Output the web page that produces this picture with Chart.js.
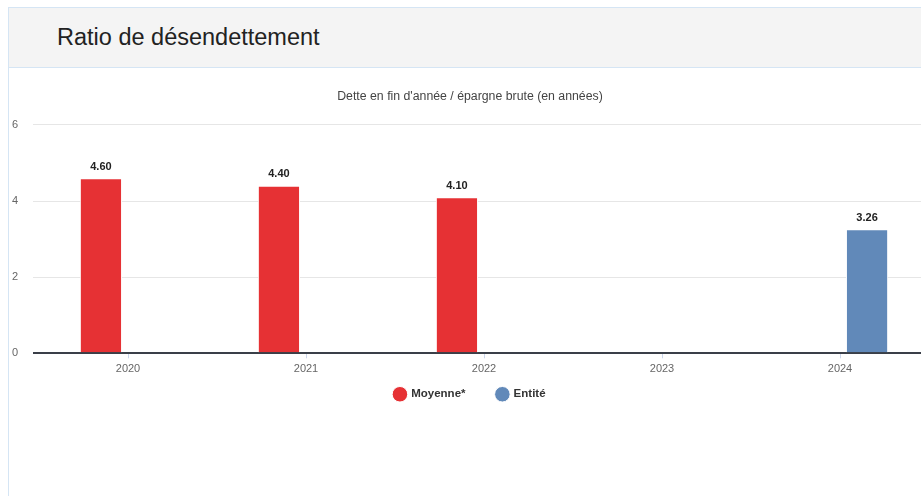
<!DOCTYPE html>
<html>
<head>
<meta charset="utf-8">
<script src="https://cdn.jsdelivr.net/npm/chart.js@4.4.0/dist/chart.umd.min.js"></script>
<style>
  body { margin: 0; background: #fff; font-family: "Liberation Sans", Arial, sans-serif; overflow: hidden; }
  .panel { position: absolute; left: 8px; top: 7px; width: 960px; height: 520px; border: 1px solid #d5e5f4; }
  .panel-head { height: 59px; background: #f4f4f4; border-bottom: 1px solid #d5e5f4; }
  .panel-head h3 { margin: 0; padding: 16px 0 0 48px; font-weight: normal; font-size: 23.5px; color: #222; }
  .chart-box { position: absolute; left: 0; top: 60px; width: 926px; height: 342px; }
</style>
</head>
<body>
<div class="panel">
  <div class="panel-head"><h3>Ratio de désendettement</h3></div>
  <div class="chart-box"><canvas class="chart"></canvas></div>
</div>
<script>
const years = ["2020", "2021", "2022", "2023", "2024"];
const moyenne = [4.6, 4.4, 4.1, null, null];
const entite = [null, null, null, null, 3.26];
const yTicks = [0, 2, 4, 6];

const FONT = "'Liberation Sans', Arial, sans-serif";

// petites étiquettes au-dessus des barres
const valueLabels = {
  id: "valueLabels",
  afterDatasetsDraw(chart) {
    const ctx = chart.ctx;
    ctx.save();
    ctx.font = "bold 11px " + FONT;
    ctx.fillStyle = "#222";
    ctx.textAlign = "center";
    ctx.textBaseline = "bottom";
    chart.data.datasets.forEach((ds, i) => {
      chart.getDatasetMeta(i).data.forEach((bar, idx) => {
        const v = ds.data[idx];
        if (v === null) return;
        ctx.fillText(v.toFixed(2), bar.x, bar.y - 6);
      });
    });
    ctx.restore();
  },
};

const ctx = document.querySelector(".chart");
new Chart(ctx, {
  type: "bar",
  data: {
    labels: years,
    datasets: [
      {
        label: "Moyenne*",
        data: moyenne,
        backgroundColor: "#e63134",
        borderColor: "#ffffff",
        borderWidth: 1,
      },
      {
        label: "Entité",
        data: entite,
        backgroundColor: "#6189b9",
        borderColor: "#ffffff",
        borderWidth: 1,
      },
    ],
  },
  options: {
    responsive: true,
    maintainAspectRatio: false,
    animation: false,
    categoryPercentage: 0.608,
    barPercentage: 0.78,
    layout: { padding: { left: 2, right: 6, bottom: 0 } },
    plugins: {
      title: {
        display: true,
        text: "Dette en fin d'année / épargne brute (en années)",
        color: "#444",
        font: { size: 12.3, weight: "normal", family: FONT },
        padding: { top: 21.6, bottom: 20.6 },
      },
      legend: {
        position: "bottom",
        labels: {
          usePointStyle: true,
          pointStyle: "circle",
          boxWidth: 11,
          boxHeight: 11,
          color: "#333",
          padding: 9,
          font: { size: 11.5, weight: "bold", family: FONT },
          // un peu plus d'espace entre les deux entrées
          generateLabels: (chart) => {
            const items = Chart.defaults.plugins.legend.labels.generateLabels(chart);
            items.forEach((it, i) => {
              if (i < items.length - 1) it.text += "\u00a0".repeat(7);
            });
            return items;
          },
        },
      },
      tooltip: { enabled: false },
    },
    scales: {
      x: {
        border: { display: false },
        grid: {
          offset: false,
          drawOnChartArea: false,
          drawTicks: true,
          tickLength: 5,
          color: "#ccd6eb",
        },
        ticks: { color: "#666", padding: 4, font: { size: 11, family: FONT } },
      },
      y: {
        min: 0,
        max: 6,
        border: { display: false },
        afterBuildTicks: (axis) => {
          axis.ticks = yTicks.map((v) => ({ value: v }));
        },
        afterFit: (axis) => {
          axis.width = 28;
        },
        grid: {
          drawTicks: true,
          tickLength: 6,
          color: (c) => (c.tick && c.tick.value === 0 ? "#3a3f48" : "#e6e6e6"),
          lineWidth: (c) => (c.tick && c.tick.value === 0 ? 2 : 1),
        },
        ticks: { color: "#666", padding: 15, font: { size: 11, family: FONT } },
      },
    },
  },
  plugins: [valueLabels],
});
</script>
</body>
</html>
